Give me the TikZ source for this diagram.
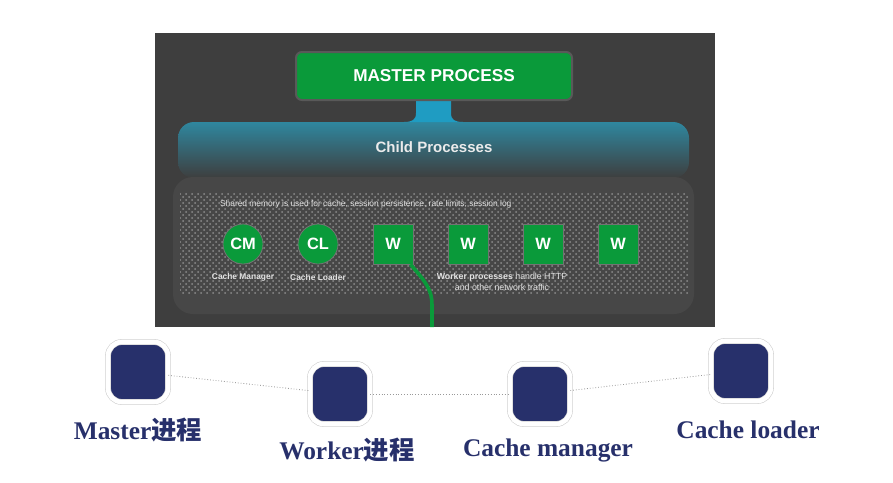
\documentclass[tikz,border=0pt]{standalone}
\usepackage{fontspec}
\setmainfont{Liberation Serif}
\setsansfont{Liberation Sans}
\newfontfamily\cjkfont{Noto Sans CJK SC}
\usetikzlibrary{patterns}
\definecolor{panelgray}{HTML}{3E3E3E}
\definecolor{lowgray}{HTML}{474747}
\definecolor{procgreen}{HTML}{0A9A3A}
\definecolor{childteal}{HTML}{2F879F}
\definecolor{neckteal}{HTML}{1F9CC2}
\definecolor{navy}{HTML}{27306B}
\definecolor{softtext}{HTML}{E2E2E2}

\begin{document}
\begin{tikzpicture}[x=0.5pt,y=-0.5pt,
  master/.style={fill=procgreen, draw=white!14!panelgray, line width=1pt, rounded corners=3pt,
    minimum width=138pt, minimum height=24pt, text=white, font=\sffamily\bfseries\fontsize{8.6}{10}\selectfont},
  proc/.style={fill=procgreen, draw=black!55, line width=0.4pt, inner sep=0pt, minimum size=20pt,
    text=white, font=\sffamily\bfseries\fontsize{8.2}{9}\selectfont},
  cproc/.style={proc, circle},
  wproc/.style={proc, rectangle},
  note/.style={text=softtext, font=\sffamily\fontsize{4.2}{5}\selectfont, align=center},
  stage/.style={fill=navy, draw=black!18, double=white, double distance=2.3pt, line width=0.3pt,
    rounded corners=7pt, minimum size=30pt},
  stagelabel/.style={text=navy, font=\bfseries\fontsize{12.7}{14}\selectfont},
  link/.style={densely dotted, black!40, line width=0.4pt}]
  \useasboundingbox[fill=white] (0,0) rectangle (893,482);

  \begin{scope}
    \fill[panelgray] (155,33) rectangle (715,327);
    \shade[top color=childteal, bottom color=panelgray, rounded corners=8pt] (178,122) rectangle (689,178);
    \fill[neckteal] (416,98) -- (416,113) .. controls (416,120) and (412,122) .. (404,122)
      -- (463,122) .. controls (455,122) and (451,120) .. (451,113) -- (451,98) -- cycle;
    \node[master] (mp) at (434,76) {MASTER PROCESS};
    \node[text=white!92!black, font=\sffamily\bfseries\fontsize{7.5}{9}\selectfont] (child) at (434,147) {Child Processes};

    \fill[lowgray, rounded corners=10pt] (173,177) rectangle (694,314);
    \fill[pattern=crosshatch dots, pattern color=black!45] (180,192) rectangle (689,293);
    \node[note, anchor=west] (shm) at (213,204) {Shared memory is used for cache, session persistence, rate limits, session log};

    \node[cproc] (cm) at (243,244) {CM};
    \node[cproc] (cl) at (318,244) {CL};
    \node[wproc] (w1) at (393,244) {W};
    \node[wproc] (w2) at (468,244) {W};
    \node[wproc] (w3) at (543,244) {W};
    \node[wproc] (w4) at (618,244) {W};
    \node[note, font=\sffamily\bfseries\fontsize{4.2}{5}\selectfont] (cmlab) at (243,277) {Cache Manager};
    \node[note, font=\sffamily\bfseries\fontsize{4.2}{5}\selectfont] (cllab) at (318,277) {Cache Loader};
    \node[note, font=\sffamily\fontsize{4.4}{5.2}\selectfont] (wlab) at (502,282) {\textbf{Worker processes} handle HTTP\\and other network traffic};

    \coordinate (tail) at (432,327);
    \draw[procgreen, line width=1.8pt] ([xshift=-1.5pt]w1.south east) .. controls (426,282) and (432,290) .. (432,305) -- (tail);
  \end{scope}

  \begin{scope}
    \node[stage] (m) at (138,372) {};
    \node[stage] (w) at (340,394) {};
    \node[stage] (c) at (540,394) {};
    \node[stage] (l) at (741,371) {};
    \draw[link] (m) -- (w);
    \draw[link] (w) -- (c);
    \draw[link] (c) -- (l);
    \node[stagelabel] (mlab) at (138,430) {Master{\cjkfont 进程}};
    \node[stagelabel] (wlab2) at (347,450) {Worker{\cjkfont 进程}};
    \node[stagelabel] (clab) at (548,450) {Cache manager};
    \node[stagelabel] (llab) at (748,430) {Cache loader};
  \end{scope}
\end{tikzpicture}
\end{document}
